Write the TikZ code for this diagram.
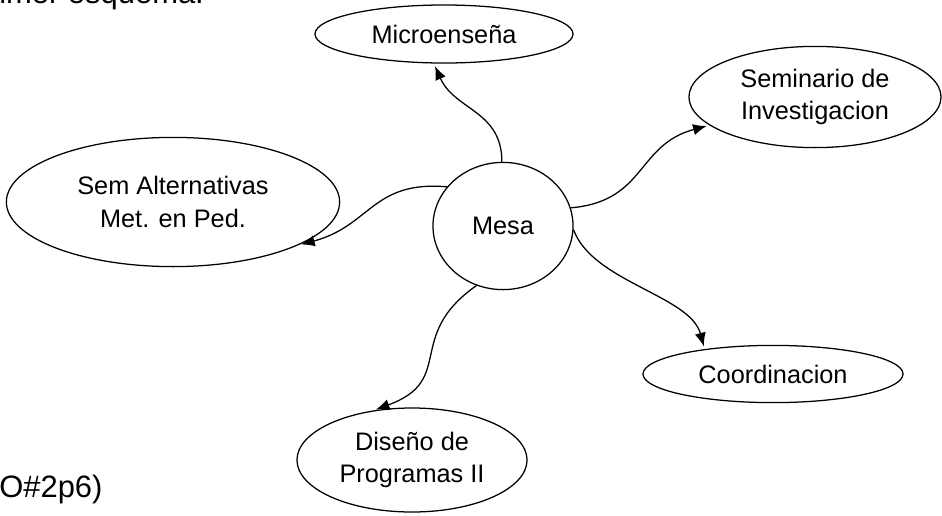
\documentclass[tikz,border=0pt]{standalone}
\usepackage{fontspec}
\setmainfont{Liberation Sans}
\usepackage{tikz}
\usetikzlibrary{arrows.meta,positioning,calc,shapes.geometric}

\tikzset{
  tema/.style={draw, ellipse, line width=0.9pt, inner sep=0pt, align=center,
    font=\fontsize{18}{23}\selectfont},
  flecha/.style={-{Latex[length=3.4mm,width=2.8mm]}, line width=0.9pt, shorten >=2pt},
  nota/.style={font=\fontsize{22}{26}\selectfont, inner sep=0pt}
}

\begin{document}
\begin{tikzpicture}[x=0.025cm, y=-0.025cm]
    \useasboundingbox (0,0) rectangle (942,515);
    \clip (0,0) rectangle (942,515);

    \node [nota, anchor=base west] (titulo) at (-1,3) {imer esquema:};
    \node [nota, anchor=base west] (ref) at (-1,497) {O\#2p6)};

    \node [tema, minimum width=3.5cm, minimum height=3.18cm] (mesa) at (503,226) {Mesa};
    \node [tema, minimum width=6.45cm, minimum height=1.45cm] (micro) at (444,34) {Microenseña};
    \node [tema, minimum width=6.3cm, minimum height=2.53cm] (semi) at (815,97) {Seminario de\\Investigacion};
    \node [tema, minimum width=8.33cm, minimum height=3.23cm] (alt) at (173,202) {Sem Alternativas\\Met. en Ped.};
    \node [tema, minimum width=5.75cm, minimum height=2.6cm] (dis) at (412,460) {Diseño de\\Programas II};
    \node [tema, minimum width=6.5cm, minimum height=1.43cm] (coord) at (773,374) {Coordinacion};

    % conectores
    \draw [flecha] (mesa.91) to[out=90, in=-66, looseness=1.1] (micro.251);
    \draw [flecha] (mesa.15) to[out=5, in=195, looseness=1.2] (semi.195);
    \draw [flecha] (mesa.145) to[out=175, in=15, looseness=1.2] (alt.341);
    \draw [flecha] (mesa.246) to[out=215, in=20, looseness=1.4] (dis.128);
    \draw [flecha] (mesa.357) to[out=-70, in=105, looseness=0.8] (coord.160);
\end{tikzpicture}
\end{document}
